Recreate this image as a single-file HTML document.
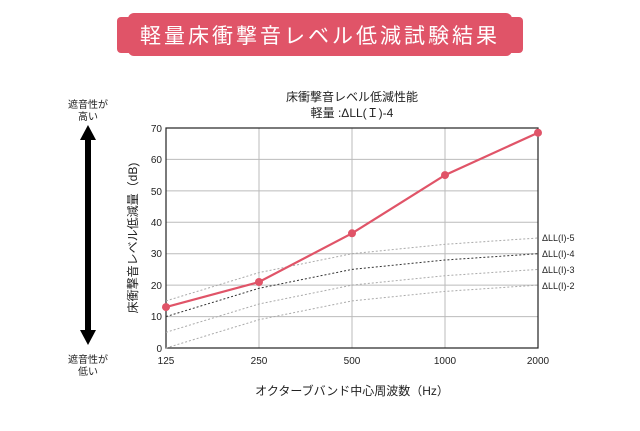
<!DOCTYPE html>
<html><head><meta charset="utf-8"><style>
html,body{margin:0;padding:0;background:#fff;}
body{width:640px;height:426px;overflow:hidden;}
text{font-family:"Liberation Sans","Noto Sans CJK JP",sans-serif;}
</style></head><body>
<svg width="640" height="426" viewBox="0 0 640 426" xmlns="http://www.w3.org/2000/svg">
<rect x="117" y="17" width="20" height="36" rx="4" fill="#e05468"/>
<rect x="503" y="17" width="20" height="36" rx="4" fill="#e05468"/>
<rect x="128" y="13" width="384" height="43" rx="6" fill="#e05468"/>
<text x="320" y="43" text-anchor="middle" font-size="21" fill="#fff" letter-spacing="3">軽量床衝撃音レベル低減試験結果</text>

<text x="352" y="101" text-anchor="middle" font-size="12" fill="#222">床衝撃音レベル低減性能</text>
<text x="352" y="117" text-anchor="middle" font-size="12" fill="#222">軽量 :ΔLL(Ｉ)-4</text>

<text x="88" y="108" text-anchor="middle" font-size="10" fill="#222">遮音性が</text>
<text x="88" y="120" text-anchor="middle" font-size="10" fill="#222">高い</text>
<text x="88" y="363" text-anchor="middle" font-size="10" fill="#222">遮音性が</text>
<text x="88" y="375" text-anchor="middle" font-size="10" fill="#222">低い</text>
<rect x="85" y="138" width="6" height="194" fill="#000"/>
<polygon points="88,125 80,140 96,140" fill="#000"/>
<polygon points="88,345 80,330 96,330" fill="#000"/>

<g stroke="#bbb" stroke-width="1">
<line x1="259" y1="128" x2="259" y2="348"/><line x1="352" y1="128" x2="352" y2="348"/><line x1="445" y1="128" x2="445" y2="348"/>
<line x1="166" y1="316.6" x2="538" y2="316.6"/><line x1="166" y1="285.1" x2="538" y2="285.1"/><line x1="166" y1="253.7" x2="538" y2="253.7"/>
<line x1="166" y1="222.3" x2="538" y2="222.3"/><line x1="166" y1="190.9" x2="538" y2="190.9"/><line x1="166" y1="159.4" x2="538" y2="159.4"/>
</g>
<rect x="166" y="128" width="372" height="220" fill="none" stroke="#222" stroke-width="1.2"/>
<g fill="none" stroke-width="1" stroke-dasharray="2,2">
<polyline stroke="#aaa" points="166,300.9 259,272.6 352,253.7 445,244.3 538,238"/>
<polyline stroke="#333" points="166,316.6 259,288.3 352,269.4 445,260 538,253.7"/>
<polyline stroke="#aaa" points="166,332.3 259,304 352,285.1 445,275.7 538,269.4"/>
<polyline stroke="#aaa" points="166,348 259,319.7 352,300.9 445,291.4 538,285.1"/>
</g>
<polyline fill="none" stroke="#e05468" stroke-width="2.2" points="166,307.1 259,282 352,233.3 445,175.1 538,132.7"/>
<g fill="#e05468">
<circle cx="166" cy="307.1" r="4"/><circle cx="259" cy="282" r="4"/><circle cx="352" cy="233.3" r="4"/><circle cx="445" cy="175.1" r="4"/><circle cx="538" cy="132.7" r="4"/>
</g>
<g font-size="10" fill="#222" text-anchor="end">
<text x="162" y="352">0</text><text x="162" y="320">10</text><text x="162" y="289">20</text><text x="162" y="257">30</text>
<text x="162" y="226">40</text><text x="162" y="195">50</text><text x="162" y="163">60</text><text x="162" y="132">70</text>
</g>
<g font-size="10" fill="#222" text-anchor="middle">
<text x="166" y="364">125</text><text x="259" y="364">250</text><text x="352" y="364">500</text><text x="445" y="364">1000</text><text x="538" y="364">2000</text>
</g>
<g font-size="9" fill="#222">
<text x="542" y="241">ΔLL(I)-5</text><text x="542" y="257">ΔLL(I)-4</text><text x="542" y="273">ΔLL(I)-3</text><text x="542" y="289">ΔLL(I)-2</text>
</g>
<text x="352" y="395" text-anchor="middle" font-size="12" fill="#222">オクターブバンド中心周波数（Hz）</text>
<text transform="translate(137,238) rotate(-90)" text-anchor="middle" font-size="12" fill="#222">床衝撃音レベル低減量（dB)</text>
</svg>
</body></html>
